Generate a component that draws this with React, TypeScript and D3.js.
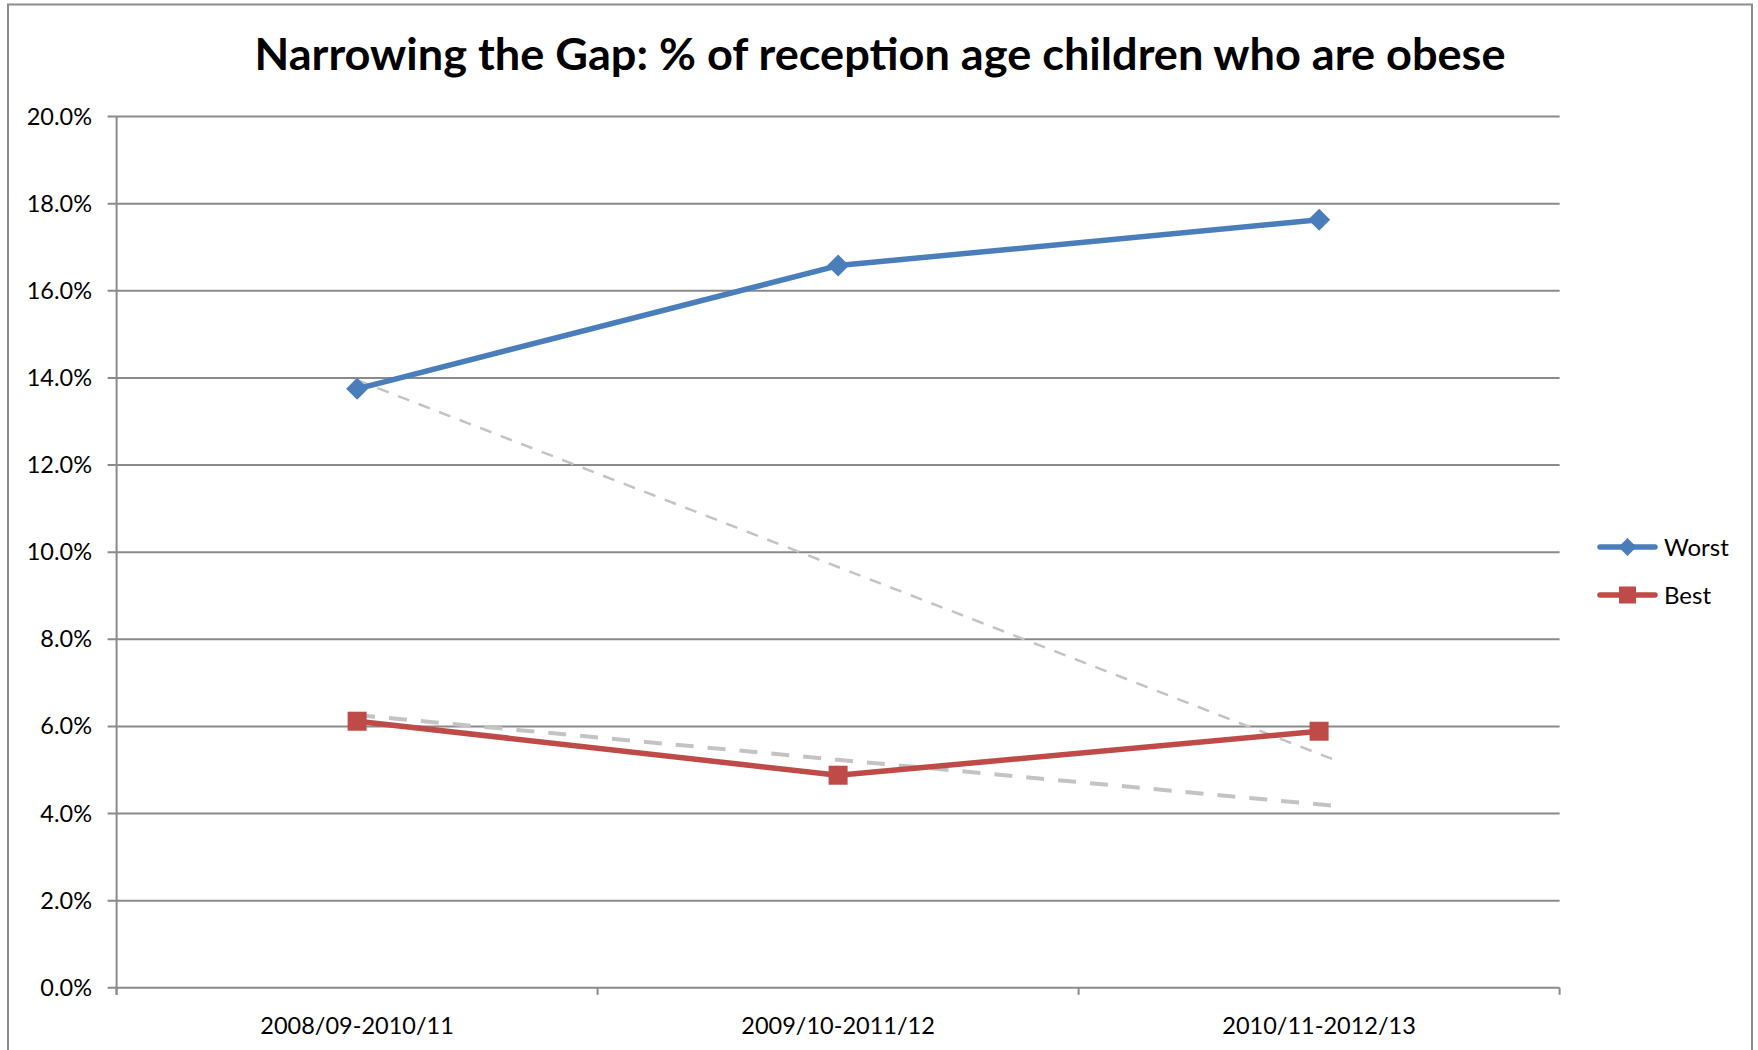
import React from 'react';
import * as d3 from 'd3';

const title = 'Narrowing the Gap: % of reception age children who are obese';
const categories = ['2008/09-2010/11', '2009/10-2011/12', '2010/11-2012/13'];
const seriesNames = ['Worst', 'Best'];
const worstValues = [13.75, 16.58, 17.63];
const bestValues = [6.12, 4.88, 5.89];
// linear trendline values at first and last category, plus forward forecast (in categories)
const worstTrend = [13.95, 5.37];
const bestTrend = [6.26, 4.21];
const trendForward = 0.04;
const yTicks = [0, 2, 4, 6, 8, 10, 12, 14, 16, 18, 20];

const W = 1758;
const H = 1050;
const FONT = 'Lato, "Open Sans", sans-serif';
const BLUE = '#4a7ebb';
const RED = '#be4b48';
const GRID = '#8a8a8a';
const TREND = '#c3c3c3';

export default function App() {
  const left = 116.6;
  const right = 1559.6;
  const top = 116.6;
  const bottom = 987.8;

  const xBand = d3.scaleBand<string>().domain(categories).range([left, right]).padding(0);
  const xIdx = d3.scaleLinear().domain([-0.5, categories.length - 0.5]).range([left, right]);
  const y = d3.scaleLinear().domain([0, 20]).range([bottom, top]);

  const line = d3
    .line<number>()
    .x((_, i) => xIdx(i))
    .y((d) => y(d));

  const trendPath = (t: number[]) => {
    const n = categories.length - 1;
    const slope = (t[1] - t[0]) / n;
    const x1 = n + trendForward;
    const pts: [number, number][] = [
      [xIdx(0), y(t[0])],
      [xIdx(x1), y(t[0] + slope * x1)],
    ];
    return d3.line()(pts) || '';
  };

  const catTicks = d3.range(categories.length + 1).map((i) => left + i * xBand.bandwidth());

  const diamond = (cx: number, cy: number, r: number) =>
    `M${cx},${cy - r}L${cx + r},${cy}L${cx},${cy + r}L${cx - r},${cy}Z`;

  return (
    <svg
      width={W}
      height={H}
      style={{ position: 'absolute', left: 0, top: 0, background: '#fff' }}
      fontFamily={FONT}
    >
      <rect x={0} y={0} width={W} height={H} fill="#fff" />
      <rect x={8} y={4.5} width={1744} height={1080} fill="none" stroke="#8c8c8c" strokeWidth={2} />

      <text
        x={880}
        y={70}
        textAnchor="middle"
        fontSize={44}
        fontWeight={700}
        fill="#000"
        textLength={1251}
        lengthAdjust="spacingAndGlyphs"
      >
        {title}
      </text>

      {/* gridlines */}
      {yTicks.map((t) => (
        <g key={t}>
          <line x1={left - 9} x2={right} y1={y(t)} y2={y(t)} stroke={GRID} strokeWidth={2} />
          <text x={92} y={y(t) + 8} textAnchor="end" fontSize={23.5} fill="#000">
            {t.toFixed(1) + '%'}
          </text>
        </g>
      ))}

      {/* y axis */}
      <line x1={left} x2={left} y1={top} y2={bottom + 7} stroke={GRID} strokeWidth={2} />

      {/* x category ticks */}
      {catTicks.map((x, i) => (
        <line key={i} x1={x} x2={x} y1={bottom} y2={bottom + 7} stroke={GRID} strokeWidth={2} />
      ))}

      {categories.map((c) => (
        <text
          key={c}
          x={(xBand(c) as number) + xBand.bandwidth() / 2}
          y={1034}
          textAnchor="middle"
          fontSize={23.5}
          fill="#000"
        >
          {c}
        </text>
      ))}

      {/* trendlines */}
      <path d={trendPath(worstTrend)} stroke={TREND} strokeWidth={2.5} strokeDasharray="12 10" fill="none" />
      <path d={trendPath(bestTrend)} stroke={TREND} strokeWidth={4} strokeDasharray="18 14" fill="none" />

      {/* series */}
      <path d={line(worstValues) || ''} stroke={BLUE} strokeWidth={5.5} fill="none" strokeLinejoin="round" />
      <path d={line(bestValues) || ''} stroke={RED} strokeWidth={5.5} fill="none" strokeLinejoin="round" />
      {worstValues.map((v, i) => (
        <path key={'w' + i} d={diamond(xIdx(i), y(v), 11)} fill={BLUE} />
      ))}
      {bestValues.map((v, i) => (
        <rect key={'b' + i} x={xIdx(i) - 9.5} y={y(v) - 9.5} width={19} height={19} fill={RED} />
      ))}

      {/* legend */}
      <g>
        <line x1={1600} x2={1655} y1={547} y2={547} stroke={BLUE} strokeWidth={5.5} strokeLinecap="round" />
        <path d={diamond(1627.5, 547, 9)} fill={BLUE} />
        <text x={1664} y={556} fontSize={24} fill="#000">
          {seriesNames[0]}
        </text>
        <line x1={1600} x2={1655} y1={595} y2={595} stroke={RED} strokeWidth={5.5} strokeLinecap="round" />
        <rect x={1619} y={586.5} width={17} height={17} fill={RED} />
        <text x={1664} y={604} fontSize={24} fill="#000">
          {seriesNames[1]}
        </text>
      </g>
    </svg>
  );
}
